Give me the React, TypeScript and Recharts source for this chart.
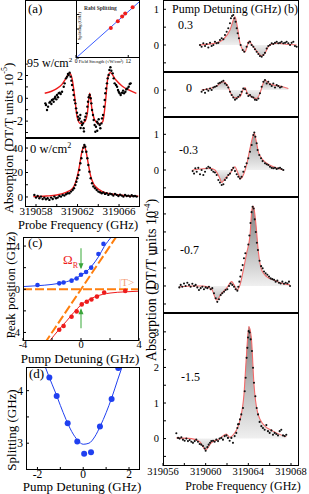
import React from "react";
import { ComposedChart, XAxis, YAxis, Line, Scatter, Area } from "recharts";

const SERIF = '"Liberation Serif", "Times New Roman", serif';

type P = [number, number];
const xy = (a: P[]) => a.map(([x, y]) => ({ x, y }));

// ---------- (a) inset: Rabi splitting vs field strength
const rabiDots: P[] = [[8.0, 3.1], [9.6, 3.8], [10.6, 4.3], [11.3, 4.6], [13.0, 5.25]];
const rabiFit: P[] = [[0, 0], [14.7, 5.88]];

// ---------- (a) 95 W/cm2 trace (DT/T x1e-5)
const a95Dots: P[] = [
  [319058.9, -0.44], [319058.96, -0.59], [319059.06, -1.03], [319059.16, -0.73], [319059.29, -0.38],
  [319059.38, -0.3], [319059.48, -0.5], [319059.54, -0.15], [319059.64, -0.09], [319059.7, -0.3],
  [319059.8, 0.0], [319059.86, 0.14], [319059.96, -0.09], [319060.02, 0.29], [319060.12, 0.09],
  [319060.19, 0.44], [319060.28, 0.49], [319060.38, 0.38], [319060.51, 0.58], [319060.67, 1.02],
  [319060.76, 1.31], [319060.89, 1.75], [319060.99, 1.9], [319061.08, 2.13], [319061.15, 2.04],
  [319061.24, 2.25], [319061.34, 1.9], [319061.41, 1.55], [319061.47, 1.17], [319061.57, 0.73],
  [319061.63, 0.29], [319061.7, -0.15], [319061.79, -0.44], [319061.86, -0.88], [319061.95, -1.26],
  [319062.05, -1.61], [319062.11, -1.9], [319062.21, -1.76], [319062.27, -1.46], [319062.37, -2.05],
  [319062.43, -2.34], [319062.53, -2.2], [319062.59, -2.63], [319062.69, -1.9], [319062.76, -1.61],
  [319062.85, -1.32], [319062.95, -0.73], [319063.01, -0.3], [319063.08, 0.09], [319063.17, 0.29],
  [319063.27, 0.0], [319063.33, -0.44], [319063.4, -1.03], [319063.49, -1.46], [319063.56, -1.9],
  [319063.65, -2.34], [319063.72, -2.93], [319063.78, -2.49], [319063.88, -2.05], [319063.98, -2.2],
  [319064.04, -1.84], [319064.14, -2.34], [319064.2, -2.63], [319064.3, -2.2], [319064.36, -1.76],
  [319064.46, -1.46], [319064.55, -0.73], [319064.62, -0.15], [319064.68, 0.44], [319064.75, 0.87],
  [319064.84, 1.31], [319064.91, 1.75], [319065.0, 2.04], [319065.07, 2.48], [319065.17, 2.72],
  [319065.26, 2.42], [319065.39, 2.19], [319065.49, 1.75], [319065.58, 1.31], [319065.71, 1.17],
  [319065.81, 1.02], [319065.9, 0.73], [319065.97, 0.58], [319066.06, 0.44], [319066.16, 0.29],
  [319066.29, 0.49], [319066.39, 0.67], [319066.48, 0.44], [319066.61, 0.58], [319066.71, 0.79],
  [319066.8, 0.87], [319066.93, 1.02], [319067.03, 1.25], [319067.12, 1.31], [319062.3, -2.6],
  [319062.62, -2.9], [319063.9, -2.85],
];
const a95Fit: P[] = [
  [319058.84, 0.44], [319059.5, 0.62], [319060.0, 0.85], [319060.5, 1.22], [319060.85, 1.7],
  [319061.1, 2.08], [319061.25, 2.2], [319061.47, 1.75], [319061.73, 0.14], [319061.95, -1.6],
  [319062.27, -2.2], [319062.69, -2.05], [319062.95, -1.3], [319063.17, 0.44], [319063.4, -1.0],
  [319063.66, -1.9], [319064.1, -2.25], [319064.43, -2.05], [319064.68, -0.44], [319064.94, 1.9],
  [319065.16, 2.25], [319065.64, 1.67], [319066.29, 1.08], [319066.93, 0.73], [319067.67, 0.44],
];

// ---------- (a) 0 W/cm2 trace
const a0Dots: P[] = [
  [319057.84, 1.7], [319058.0, -0.5], [319058.16, 0.8], [319058.32, -1.1], [319058.48, 0.3],
  [319058.64, -1.6], [319058.8, -0.5], [319058.96, -1.9], [319059.12, -1.1], [319059.29, -2.4],
  [319059.45, -0.5], [319059.61, -1.6], [319059.77, 0.3], [319059.93, -1.1], [319060.09, -0.5],
  [319060.25, 0.8], [319060.41, 0.3], [319060.57, 1.7], [319060.73, 1.1], [319060.89, 2.2],
  [319061.05, 3.0], [319061.21, 3.0], [319061.37, 4.4], [319061.53, 5.7], [319061.66, 7.1],
  [319061.79, 9.8], [319061.89, 12.5], [319061.98, 15.3], [319062.08, 18.0], [319062.18, 22.1],
  [319062.27, 27.5], [319062.37, 31.6], [319062.47, 37.0], [319062.56, 40.3], [319062.66, 42.5],
  [319062.75, 41.1], [319062.85, 37.0], [319062.95, 31.6], [319063.04, 26.1], [319063.14, 20.7],
  [319063.27, 15.3], [319063.4, 11.2], [319063.53, 8.5], [319063.69, 7.1], [319063.85, 5.7],
  [319064.01, 4.4], [319064.17, 3.8], [319064.33, 3.0], [319064.49, 3.6], [319064.65, 2.5],
  [319064.81, 3.0], [319064.97, 1.7], [319065.13, 2.7], [319065.29, 2.2], [319065.45, 1.1],
  [319065.61, 2.5], [319065.78, 1.7], [319065.94, 0.8], [319066.1, 1.9], [319066.26, 1.1],
  [319066.42, 0.3], [319066.58, 1.7], [319066.74, 0.8], [319066.9, 1.1], [319067.06, 0.3],
  [319067.22, 1.4], [319067.38, 0.6], [319067.54, 0.8], [319067.7, 0.3],
];
const a0Fit: P[] = [
  [319057.74, 0.3], [319059.0, 0.8], [319060.0, 1.6], [319060.96, 4.0], [319061.53, 7.0],
  [319061.92, 15], [319062.18, 25], [319062.4, 36], [319062.66, 41.6], [319062.85, 36],
  [319063.04, 27], [319063.27, 17], [319063.53, 11], [319063.85, 7.5], [319064.5, 4.0],
  [319065.45, 2.2], [319066.5, 1.2], [319067.86, 0.6],
];

// ---------- (c) peak positions vs pump detuning
const cUpperDots: P[] = [
  [-3, 0.4], [-1.5, 0.55], [-1.2, 0.62], [-0.65, 0.8], [-0.3, 1.0], [0, 1.35], [0.35, 1.6],
  [0.7, 2.0], [1.2, 3.27], [1.55, 4.2],
];
const cLowerDots: P[] = [
  [-1.5, -3.75], [-1.2, -3.4], [-0.65, -2.55], [-0.3, -2.05], [0.05, -1.4], [0.4, -1.15],
  [0.72, -0.95], [1.1, -0.68], [1.6, -0.3], [3.05, -0.15],
];
const cUpperFit: P[] = [
  [-4, 0.25], [-3, 0.33], [-2, 0.45], [-1.5, 0.55], [-1, 0.7], [-0.5, 0.92], [0, 1.3], [0.5, 1.8],
  [0.8, 2.25], [1.2, 3.0], [1.6, 3.95], [2.1, 4.85],
];
const cLowerFit: P[] = [
  [-2.2, -4.85], [-1.5, -3.7], [-1, -2.95], [-0.5, -2.15], [0, -1.45], [0.5, -1.0], [1, -0.68],
  [1.5, -0.47], [2, -0.35], [3, -0.24], [4, -0.18],
];
const cDiag: P[] = [[-2.5, -5], [2.5, 5]];
const cFlat: P[] = [[-4, 0], [4, 0]];
const cShaftUp: P[] = [[0, 3.8], [0, 2.0]];
const cShaftLow: P[] = [[0, -3.6], [0, -1.9]];
const cHeads = [{ x: 0, y: 1.85, dir: 1 }, { x: 0, y: -1.76, dir: -1 }];

// ---------- (d) splitting vs pump detuning
const dDots: P[] = [
  [-1.48, 4.25], [-1.16, 3.9], [-0.68, 3.38], [-0.26, 3.03], [0.04, 2.8], [0.34, 2.83],
  [0.73, 3.32], [1.24, 3.84], [1.53, 4.43],
];
const dFit: P[] = [
  [-1.7, 4.5], [-1.5, 4.27], [-1.2, 3.95], [-1, 3.72], [-0.75, 3.45], [-0.5, 3.22], [-0.25, 3.06],
  [0, 2.98], [0.25, 3.0], [0.5, 3.12], [0.75, 3.33], [1, 3.58], [1.25, 3.87], [1.5, 4.2], [1.75, 4.52],
];

// ---------- (b) spectra at pump detuning 0.3, 0, -0.3, -0.7, -1.5 GHz (DT/T x1e-4)
const b03Dots: P[] = [
  [319059.47, 0.0], [319059.62, -0.05], [319059.78, 0.05], [319059.94, -0.03], [319060.09, 0.03],
  [319060.25, -0.07], [319060.41, 0.06], [319060.56, -0.03], [319060.72, 0.0], [319060.87, 0.09],
  [319061.03, 0.05], [319061.19, 0.06], [319061.34, 0.14], [319061.5, 0.19], [319061.66, 0.16],
  [319061.81, 0.28], [319061.97, 0.37], [319062.12, 0.47], [319062.28, 0.61], [319062.37, 0.75],
  [319062.47, 0.81], [319062.59, 0.84], [319062.69, 0.75], [319062.81, 0.65], [319062.91, 0.47],
  [319063.0, 0.33], [319063.12, 0.19], [319063.28, 0.0], [319063.47, -0.14], [319063.62, -0.19],
  [319063.84, -0.05], [319064.0, 0.06], [319064.16, 0.09], [319064.31, 0.0], [319064.47, -0.05],
  [319064.62, -0.12], [319064.78, -0.19], [319064.94, -0.25], [319065.09, -0.31], [319065.25, -0.33],
  [319065.41, -0.28], [319065.56, -0.22], [319065.72, -0.1], [319065.87, -0.03], [319066.03, 0.0],
  [319066.19, 0.05], [319066.34, 0.03], [319066.5, 0.06], [319066.66, 0.09], [319066.81, 0.05],
  [319066.97, 0.06], [319067.12, 0.09], [319067.28, 0.05], [319067.44, 0.06], [319067.59, 0.09],
  [319067.75, 0.05], [319067.91, 0.0], [319068.06, 0.06], [319068.22, 0.09], [319068.37, -0.03],
  [319068.53, -0.05],
];
const b03Fit: P[] = [
  [319059.4, 0.0], [319061.0, 0.06], [319061.66, 0.16], [319062.28, 0.42], [319062.66, 0.75],
  [319062.75, 0.79], [319062.97, 0.51], [319063.22, 0.05], [319063.5, -0.15], [319063.69, -0.19],
  [319063.9, -0.02], [319064.09, 0.12], [319064.3, 0.02], [319064.47, -0.05], [319064.94, -0.23],
  [319065.25, -0.31], [319065.56, -0.23], [319065.87, -0.05], [319066.2, 0.03], [319066.66, 0.05],
  [319067.5, 0.02], [319068.53, 0.0],
];
const b0Dots: P[] = [
  [319059.62, -0.05], [319059.78, 0.0], [319059.94, -0.08], [319060.09, 0.02], [319060.25, -0.02],
  [319060.41, 0.04], [319060.56, 0.0], [319060.72, 0.07], [319060.87, 0.09], [319061.03, 0.11],
  [319061.19, 0.18], [319061.34, 0.2], [319061.5, 0.23], [319061.66, 0.26], [319061.81, 0.18],
  [319061.97, 0.14], [319062.12, 0.07], [319062.28, -0.05], [319062.44, -0.14], [319062.59, -0.21],
  [319062.75, -0.27], [319062.91, -0.24], [319063.06, -0.19], [319063.22, -0.14], [319063.37, -0.05],
  [319063.53, 0.04], [319063.69, 0.02], [319063.84, -0.09], [319064.0, -0.17], [319064.16, -0.14],
  [319064.31, -0.19], [319064.47, -0.21], [319064.62, -0.27], [319064.78, -0.28], [319064.94, -0.24],
  [319065.09, -0.09], [319065.25, 0.09], [319065.41, 0.23], [319065.56, 0.28], [319065.72, 0.18],
  [319065.87, 0.23], [319066.03, 0.16], [319066.19, 0.11], [319066.34, 0.18], [319066.5, 0.07],
  [319066.66, 0.14], [319066.81, 0.11], [319066.97, 0.07], [319067.12, 0.09],
];
const b0Fit: P[] = [
  [319059.62, 0.0], [319060.41, 0.04], [319061.03, 0.11], [319061.66, 0.23], [319062.03, 0.14],
  [319062.44, -0.14], [319062.75, -0.22], [319063.22, -0.19], [319063.53, 0.02], [319063.69, 0.07],
  [319063.9, -0.09], [319064.31, -0.19], [319064.78, -0.24], [319065.09, -0.09], [319065.41, 0.2],
  [319065.56, 0.28], [319065.87, 0.2], [319066.34, 0.14], [319066.97, 0.11], [319067.75, 0.04],
];
const bm03Dots: P[] = [
  [319058.78, -0.03], [319058.91, -0.1], [319059.03, 0.05], [319059.16, -0.05], [319059.31, 0.06],
  [319059.47, -0.12], [319059.62, 0.0], [319059.78, -0.14], [319059.94, -0.05], [319060.09, 0.05],
  [319060.25, 0.09], [319060.41, 0.06], [319060.56, 0.0], [319060.72, -0.05], [319060.87, -0.07],
  [319061.03, -0.14], [319061.19, -0.28], [319061.34, -0.35], [319061.5, -0.42], [319061.66, -0.4],
  [319061.81, -0.28], [319061.97, -0.22], [319062.12, -0.14], [319062.28, -0.1], [319062.44, 0.0],
  [319062.59, 0.06], [319062.75, -0.03], [319062.91, -0.12], [319063.06, -0.19], [319063.22, -0.24],
  [319063.37, -0.19], [319063.53, -0.05], [319063.69, 0.09], [319063.84, 0.19], [319064.0, 0.33],
  [319064.16, 0.51], [319064.31, 0.7], [319064.47, 0.98], [319064.56, 1.05], [319064.66, 0.93],
  [319064.78, 0.75], [319064.87, 0.56], [319065.03, 0.42], [319065.19, 0.33], [319065.34, 0.25],
  [319065.56, 0.19], [319065.72, 0.16], [319065.87, 0.14], [319066.03, 0.09], [319066.19, 0.06],
  [319066.34, 0.05], [319066.5, 0.06], [319066.66, 0.03], [319066.81, 0.05], [319066.97, 0.06],
  [319067.12, 0.03], [319067.28, 0.0],
];
const bm03Fit: P[] = [
  [319058.78, 0.0], [319060.41, 0.05], [319060.87, 0.0], [319061.34, -0.24], [319061.5, -0.35],
  [319061.81, -0.24], [319062.28, -0.1], [319062.59, 0.05], [319062.75, 0.09], [319062.97, -0.05],
  [319063.28, -0.24], [319063.53, -0.14], [319063.9, 0.23], [319064.16, 0.61], [319064.47, 0.98],
  [319064.56, 1.03], [319064.72, 0.84], [319064.94, 0.51], [319065.25, 0.33], [319065.72, 0.19],
  [319066.34, 0.09], [319067.28, 0.0],
];
const bm07Dots: P[] = [
  [319057.53, -0.04], [319057.66, 0.03], [319057.81, -0.02], [319057.97, 0.07], [319058.12, 0.0],
  [319058.28, 0.09], [319058.44, 0.03], [319058.59, -0.02], [319058.75, 0.06], [319058.91, 0.0],
  [319059.06, 0.03], [319059.22, -0.04], [319059.37, -0.11], [319059.53, -0.06], [319059.69, -0.02],
  [319059.84, -0.09], [319060.0, -0.04], [319060.16, -0.06], [319060.31, -0.02], [319060.47, -0.09],
  [319060.62, -0.06], [319060.78, -0.2], [319060.94, -0.34], [319061.09, -0.44], [319061.25, -0.37],
  [319061.41, -0.25], [319061.56, -0.2], [319061.72, -0.16], [319061.87, -0.11], [319062.03, -0.09],
  [319062.19, 0.0], [319062.34, 0.07], [319062.5, 0.03], [319062.66, -0.02], [319062.81, -0.09],
  [319062.97, -0.13], [319063.06, -0.02], [319063.16, 0.12], [319063.25, 0.26], [319063.34, 0.44],
  [319063.47, 0.58], [319063.59, 0.77], [319063.72, 0.91], [319064.0, 1.15], [319064.1, 1.4],
  [319064.2, 1.75], [319064.3, 2.05], [319064.4, 2.2], [319064.5, 2.15], [319064.6, 1.85],
  [319064.7, 1.5], [319064.8, 1.2], [319064.9, 1.0], [319065.05, 0.7], [319065.2, 0.55],
  [319065.34, 0.49], [319065.47, 0.4], [319065.62, 0.35], [319065.78, 0.31], [319065.94, 0.26],
  [319066.09, 0.21], [319066.25, 0.19], [319066.41, 0.17], [319066.56, 0.12], [319066.72, 0.15],
  [319066.87, 0.09], [319067.03, 0.07], [319067.19, 0.12], [319067.34, 0.06], [319067.5, 0.09],
  [319067.66, 0.07], [319067.81, 0.12], [319067.91, 0.0],
];
const bm07Fit: P[] = [
  [319057.53, -0.02], [319058.84, 0.0], [319059.78, 0.0], [319060.56, -0.09], [319061.03, -0.39],
  [319061.5, -0.2], [319061.97, -0.06], [319062.44, 0.12], [319062.66, 0.03], [319062.97, -0.11],
  [319063.22, 0.03], [319063.53, 0.44], [319063.84, 0.91], [319064.16, 1.42], [319064.31, 2.06],
  [319064.44, 2.22], [319064.56, 2.1], [319064.72, 1.69], [319064.94, 0.95], [319065.25, 0.44],
  [319065.72, 0.26], [319066.34, 0.17], [319066.97, 0.09], [319067.91, 0.03],
];
const bm15Dots: P[] = [
  [319057.25, 0.15], [319057.41, 0.02], [319057.56, 0.0], [319057.72, 0.04], [319057.87, -0.03],
  [319058.03, -0.06], [319058.19, 0.0], [319058.34, -0.07], [319058.5, -0.04], [319058.66, -0.09],
  [319058.81, -0.12], [319058.97, -0.07], [319059.12, -0.03], [319059.28, -0.09], [319059.44, -0.15],
  [319059.59, -0.17], [319059.75, -0.21], [319059.91, -0.28], [319060.0, -0.34], [319060.16, -0.24],
  [319060.28, -0.17], [319060.41, -0.12], [319060.53, -0.07], [319060.69, -0.06], [319060.84, -0.09],
  [319061.0, -0.03], [319061.16, -0.07], [319061.31, 0.0], [319061.47, 0.02], [319061.62, -0.03],
  [319061.78, 0.07], [319061.94, 0.09], [319062.09, 0.02], [319062.25, -0.06], [319062.41, 0.02],
  [319062.56, -0.12], [319062.72, 0.07], [319062.87, 0.16], [319062.97, 0.3], [319063.03, 0.4],
  [319063.12, 0.41], [319063.22, 0.54], [319063.34, 0.68], [319063.5, 0.86], [319063.66, 1.33],
  [319063.75, 1.71], [319063.84, 2.27], [319063.91, 2.55], [319063.97, 2.84], [319064.03, 3.02],
  [319064.12, 2.98], [319064.22, 2.79], [319064.34, 2.46], [319064.44, 1.99], [319064.53, 1.57],
  [319064.66, 1.19], [319064.78, 0.86], [319064.91, 0.68], [319065.06, 0.47], [319065.22, 0.35],
  [319065.37, 0.3], [319065.53, 0.25], [319065.69, 0.38], [319065.84, 0.21], [319066.0, 0.16],
  [319066.16, 0.23], [319066.31, 0.11], [319066.47, 0.16], [319066.62, 0.13], [319066.78, 0.09],
  [319066.94, 0.21], [319067.09, 0.25], [319067.25, 0.09], [319067.41, 0.07], [319067.56, 0.11],
];
const bm15Fit: P[] = [
  [319057.25, 0.02], [319058.66, 0.0], [319059.44, -0.09], [319060.0, -0.31], [319060.53, -0.12],
  [319061.31, 0.0], [319061.93, 0.13], [319062.25, 0.04], [319062.65, 0.13], [319063.19, 0.49],
  [319063.59, 1.24], [319063.81, 2.27], [319064.05, 3.15], [319064.28, 2.84], [319064.53, 1.52],
  [319064.84, 0.77], [319065.37, 0.41], [319066.31, 0.21], [319067.56, 0.05],
];

const bFreqTicks = [319056, 319058, 319060, 319062, 319064, 319066, 319068];
const aFreqTicks = [319058, 319060, 319062, 319064, 319066];

type Box = { l: number; t: number; w: number; h: number };

const dot = (r: number, fill: string) => (p: any) => (
  <circle cx={p.cx} cy={p.cy} r={r} fill={fill} />
);

const arrowHead = (p: any) => {
  const d = p.payload.dir;
  return (
    <polygon
      points={`${p.cx - 2.5},${p.cy - 6 * d} ${p.cx + 2.5},${p.cy - 6 * d} ${p.cx},${p.cy}`}
      fill="#3aa53a"
    />
  );
};

const intOnly = (v: number) => (Number.isInteger(v) ? String(v) : "");

function shade(id: string, h: number, top: number, bottom: number) {
  const z = top / (top - bottom);
  return (
    <defs>
      <linearGradient id={id} gradientUnits="userSpaceOnUse" x1="0" y1="0" x2="0" y2={h}>
        <stop offset="0" stopColor="#707070" />
        <stop offset={z} stopColor="#f0f0f0" />
        <stop offset="1" stopColor="#808080" />
      </linearGradient>
    </defs>
  );
}

function Panel(props: {
  box: Box;
  xd: [number, number];
  yd: [number, number];
  xt?: number[];
  yt?: number[];
  xf?: (v: number) => string;
  yf?: (v: number) => string;
  showX?: boolean;
  padL?: number;
  padR?: number;
  padB?: number;
  fs?: number;
  xm?: number;
  ym?: number;
  bg?: string;
  children?: React.ReactNode;
}) {
  const { box, xd, yd, xt, yt, xf, yf, showX = false, padL = 22, padR = 0, padB = 16, fs = 11, xm = 5, ym = 6, bg } = props;
  const hb = showX ? padB : 0;
  const W = padL + box.w + padR;
  const H = box.h + hb;
  const tick = { fontSize: fs, fill: "#000", fontFamily: SERIF };
  return (
    <div style={{ position: "absolute", left: box.l - padL, top: box.t, width: W, height: H }}>
      {bg && (
        <div style={{ position: "absolute", left: padL, top: 0, width: box.w, height: box.h, background: bg }} />
      )}
      <ComposedChart
        width={W}
        height={H}
        margin={{ top: 0, right: padR, bottom: 0, left: 0 }}
        style={{ position: "absolute", left: 0, top: 0 }}
      >
        <XAxis
          type="number"
          dataKey="x"
          domain={xd}
          allowDataOverflow
          ticks={xt}
          interval={0}
          tickFormatter={xf}
          hide={!showX}
          height={hb}
          axisLine={false}
          stroke="#000"
          tickSize={-3}
          tickMargin={xm}
          tick={tick}
        />
        <YAxis
          type="number"
          dataKey="y"
          domain={yd}
          allowDataOverflow
          ticks={yt}
          interval={0}
          tickFormatter={yf}
          width={padL}
          axisLine={false}
          stroke="#000"
          tickSize={-3}
          tickMargin={ym}
          tick={tick}
        />
        {props.children}
      </ComposedChart>
      <div
        style={{
          position: "absolute",
          left: padL,
          top: 0,
          width: box.w,
          height: box.h,
          border: "1.2px solid #000",
          boxSizing: "border-box",
          pointerEvents: "none",
        }}
      />
    </div>
  );
}

function Txt(props: { x: number; y: number; s?: number; c?: string; mid?: boolean; w?: number; children: React.ReactNode }) {
  const { x, y, s = 12, c = "#000", mid = false, w = 400 } = props;
  return (
    <div
      style={{
        position: "absolute",
        left: x,
        top: y - 0.84 * s,
        fontSize: s,
        lineHeight: 1,
        color: c,
        fontWeight: w,
        whiteSpace: "nowrap",
        fontFamily: SERIF,
        transform: mid ? "translateX(-50%)" : undefined,
      }}
    >
      {props.children}
    </div>
  );
}

function VTxt(props: { x: number; y: number; s?: number; children: React.ReactNode }) {
  const { x, y, s = 13 } = props;
  return (
    <div
      style={{
        position: "absolute",
        left: x,
        top: y,
        fontSize: s,
        lineHeight: 1,
        whiteSpace: "nowrap",
        fontFamily: SERIF,
        transform: "translate(-50%, -50%) rotate(-90deg)",
      }}
    >
      {props.children}
    </div>
  );
}

const RED = "#ee1c1c";
const PINK = "#f26a6a";
const BLUE = "#2040f0";
const ORANGE = "#ff7f0e";

function BPanel(props: {
  id: string;
  box: Box;
  yd: [number, number];
  yt: number[];
  dots: P[];
  fit: P[];
  showX?: boolean;
}) {
  const { id, box, yd, yt, dots, fit, showX = false } = props;
  return (
    <Panel
      box={box}
      xd={[319056, 319068.75]}
      yd={yd}
      xt={bFreqTicks}
      yt={yt}
      xf={(v) => ((v - 319056) % 4 === 0 ? String(v) : "")}
      yf={intOnly}
      showX={showX}
      padR={showX ? 12 : 0}
      padB={14}
      fs={10.5}
      ym={7}
    >
      {shade(id, box.h, yd[1], yd[0])}
      <Area
        data={xy(fit)}
        dataKey="y"
        type="monotone"
        baseValue={0}
        stroke={PINK}
        strokeWidth={1.1}
        fill={`url(#${id})`}
        fillOpacity={1}
        isAnimationActive={false}
        dot={false}
        activeDot={false}
      />
      <Scatter data={xy(dots)} dataKey="y" shape={dot(1.05, "#111")} isAnimationActive={false} />
    </Panel>
  );
}

export default function App() {
  return (
    <div
      style={{
        position: "absolute",
        left: 0,
        top: 0,
        width: 309,
        height: 494,
        background: "#fff",
        overflow: "hidden",
        fontFamily: SERIF,
      }}
    >
      {/* (a) 95 W/cm2 */}
      <Panel
        box={{ l: 25, t: 0, w: 115, h: 138 }}
        xd={[319056.94, 319068.02]}
        yd={[-3.48, 8.62]}
        yt={[-3, -2, -1, 0, 1, 2, 3]}
        yf={(v) => (v % 2 === 0 ? String(v) : "")}
        fs={12}
        ym={5}
      >
        <Line data={xy(a95Fit)} dataKey="y" type="monotone" stroke={RED} strokeWidth={1.4} dot={false} isAnimationActive={false} />
        <Scatter data={xy(a95Dots)} dataKey="y" shape={dot(1.2, "#000")} isAnimationActive={false} />
      </Panel>

      {/* (a) inset */}
      <Panel
        box={{ l: 76, t: 0, w: 64, h: 58 }}
        xd={[0, 14.7]}
        yd={[0, 6]}
        xt={[0, 12]}
        yt={[0, 1.5, 3, 4.5, 6]}
        yf={() => ""}
        showX
        padL={2}
        padR={4}
        padB={9}
        fs={5.5}
        xm={4}
        bg="#fff"
      >
        <Line data={xy(rabiFit)} dataKey="y" type="linear" stroke="#3a5cff" strokeWidth={1} dot={false} isAnimationActive={false} />
        <Scatter data={xy(rabiDots)} dataKey="y" shape={dot(2, RED)} isAnimationActive={false} />
      </Panel>

      {/* (a) 0 W/cm2 */}
      <Panel
        box={{ l: 25, t: 138, w: 115, h: 69 }}
        xd={[319056.94, 319068.02]}
        yd={[-8.2, 48.2]}
        xt={aFreqTicks}
        yt={[0, 10, 20, 30, 40]}
        xf={(v) => ((v - 319058) % 4 === 0 ? String(v) : "")}
        yf={(v) => (v % 20 === 0 ? String(v) : "")}
        showX
        padR={14}
        padB={12}
        fs={11}
        xm={3}
        ym={5}
      >
        <Line data={xy(a0Fit)} dataKey="y" type="monotone" stroke={RED} strokeWidth={1.4} dot={false} isAnimationActive={false} />
        <Scatter data={xy(a0Dots)} dataKey="y" shape={dot(1.2, "#000")} isAnimationActive={false} />
      </Panel>

      {/* (c) */}
      <Panel
        box={{ l: 23, t: 237, w: 116, h: 104 }}
        xd={[-4, 4]}
        yd={[-4.79, 4.84]}
        xt={[-4, -2, 0, 2, 4]}
        yt={[-4, -2, 0, 2, 4]}
        xf={(v) => (v % 4 === 0 ? String(v) : "")}
        yf={(v) => (v % 4 === 0 ? String(v) : "")}
        showX
        padR={6}
        padB={11}
        fs={10.5}
        xm={3}
        ym={6}
      >
        <Line data={xy(cFlat)} dataKey="y" type="linear" stroke={ORANGE} strokeWidth={2} strokeDasharray="9 3" dot={false} isAnimationActive={false} />
        <Line data={xy(cDiag)} dataKey="y" type="linear" stroke={ORANGE} strokeWidth={2} strokeDasharray="9 3" dot={false} isAnimationActive={false} />
        <Line data={xy(cShaftUp)} dataKey="y" type="linear" stroke="#9bd49b" strokeWidth={2} dot={false} isAnimationActive={false} />
        <Line data={xy(cShaftLow)} dataKey="y" type="linear" stroke="#9bd49b" strokeWidth={2} dot={false} isAnimationActive={false} />
        <Line data={xy(cUpperFit)} dataKey="y" type="monotone" stroke={BLUE} strokeWidth={1} dot={false} isAnimationActive={false} />
        <Line data={xy(cLowerFit)} dataKey="y" type="monotone" stroke={RED} strokeWidth={1} dot={false} isAnimationActive={false} />
        <Scatter data={cHeads} dataKey="y" shape={arrowHead} isAnimationActive={false} />
        <Scatter data={xy(cUpperDots)} dataKey="y" shape={dot(2.3, BLUE)} isAnimationActive={false} />
        <Scatter data={xy(cLowerDots)} dataKey="y" shape={dot(2.3, RED)} isAnimationActive={false} />
      </Panel>

      {/* (d) */}
      <Panel
        box={{ l: 26, t: 367, w: 114, h: 103 }}
        xd={[-2.5, 2.48]}
        yd={[2.49, 4.45]}
        xt={[-2, -1, 0, 1, 2]}
        yt={[2.5, 3, 3.5, 4]}
        xf={(v) => (v % 2 === 0 ? String(v) : "")}
        yf={intOnly}
        showX
        padR={6}
        padB={11}
        fs={11.5}
        xm={3}
        ym={6}
      >
        <Line data={xy(dFit)} dataKey="y" type="monotone" stroke={BLUE} strokeWidth={1} dot={false} isAnimationActive={false} />
        <Scatter data={xy(dDots)} dataKey="y" shape={dot(3, BLUE)} isAnimationActive={false} />
      </Panel>

      {/* (b) */}
      <BPanel id="gb1" box={{ l: 163, t: 0, w: 136, h: 72 }} yd={[-0.756, 1.26]} yt={[-0.5, 0, 0.5, 1]} dots={b03Dots} fit={b03Fit} />
      <BPanel id="gb2" box={{ l: 163, t: 72, w: 136, h: 45 }} yd={[-0.756, 0.504]} yt={[-0.5, 0]} dots={b0Dots} fit={b0Fit} />
      <BPanel id="gb3" box={{ l: 163, t: 117, w: 136, h: 80 }} yd={[-0.756, 1.485]} yt={[-0.5, 0, 0.5, 1]} dots={bm03Dots} fit={bm03Fit} />
      <BPanel id="gb4" box={{ l: 163, t: 197, w: 136, h: 116 }} yd={[-0.75, 2.47]} yt={[-0.5, 0, 0.5, 1, 1.5, 2]} dots={bm07Dots} fit={bm07Fit} />
      <BPanel id="gb5" box={{ l: 163, t: 313, w: 136, h: 153 }} yd={[-0.77, 3.53]} yt={[-0.5, 0, 0.5, 1, 1.5, 2, 2.5, 3]} dots={bm15Dots} fit={bm15Fit} showX />

      {/* text: left column */}
      <Txt x={28} y={13} s={13}>(a)</Txt>
      <Txt x={84} y={11} s={5.5} c="#333" w={700}>Rabi Splitting</Txt>
      <VTxt x={79.5} y={26} s={4.5}>Splitting (GHz)</VTxt>
      <Txt x={101} y={64} s={4.5} mid>Field Strength (√W/cm²)</Txt>
      <Txt x={27} y={67} s={12}>95 w/cm<sup style={{ fontSize: 7 }}>2</sup></Txt>
      <Txt x={30} y={152} s={12.5}>0 w/cm<sup style={{ fontSize: 8 }}>2</sup></Txt>
      <VTxt x={8} y={138} s={13}>Absorption (DT/T units 10<sup style={{ fontSize: 8 }}>-5</sup>)</VTxt>
      <Txt x={78} y={229} s={12.5} mid>Probe Frequency (GHz)</Txt>

      <Txt x={28} y={247} s={13}>(c)</Txt>
      <Txt x={63} y={264} s={13} c={RED}>Ω<sub style={{ fontSize: 8 }}>R</sub></Txt>
      <Txt x={119} y={286} s={11} c="#f4a07a">|T&gt;</Txt>
      <VTxt x={10} y={285} s={13}>Peak position (GHz)</VTxt>
      <Txt x={80} y={363} s={13} mid>Pump Detuning (GHz)</Txt>

      <Txt x={29} y={378} s={13}>(d)</Txt>
      <VTxt x={11} y={430} s={13}>Splitting (GHz)</VTxt>
      <Txt x={82} y={491} s={13} mid>Pump Detuning (GHz)</Txt>

      {/* text: right column */}
      <Txt x={172} y={13} s={12}>Pump Detuning (GHz)</Txt>
      <Txt x={284} y={13} s={12}>(b)</Txt>
      <Txt x={178} y={29} s={12}>0.3</Txt>
      <Txt x={186} y={92} s={12}>0</Txt>
      <Txt x={179} y={154} s={12}>-0.3</Txt>
      <Txt x={180} y={254} s={12}>-0.7</Txt>
      <Txt x={181} y={381} s={12}>-1.5</Txt>
      <VTxt x={151} y={280} s={14}>Absorption (DT/T units 10<sup style={{ fontSize: 9 }}>-4</sup>)</VTxt>
      <Txt x={243} y={490} s={12} mid>Probe Frequency (GHz)</Txt>
    </div>
  );
}
